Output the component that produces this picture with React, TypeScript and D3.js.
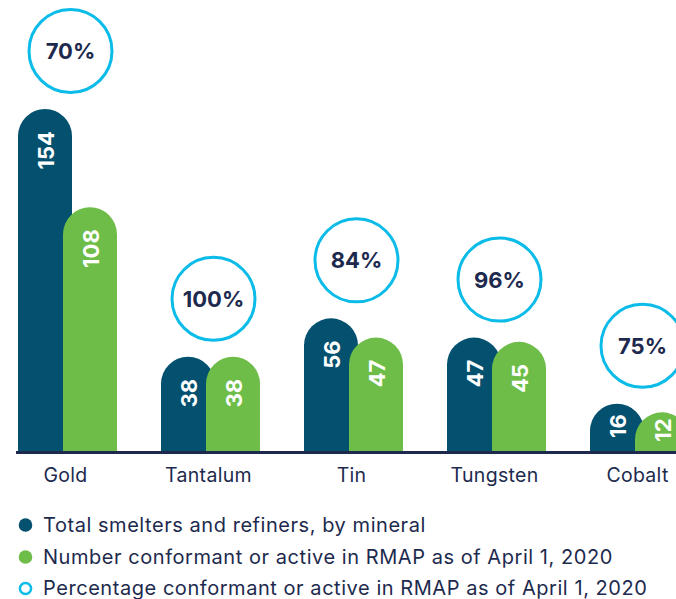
import React from "react";
import * as d3 from "d3";

const categories = ["Gold", "Tantalum", "Tin", "Tungsten", "Cobalt"];
const totalSmelters = [154, 38, 56, 47, 16];
const conformant = [108, 38, 47, 45, 12];
const percentages = ["70%", "100%", "84%", "96%", "75%"];
const legendLabels = [
  "Total smelters and refiners, by mineral",
  "Number conformant or active in RMAP as of April 1, 2020",
  "Percentage conformant or active in RMAP as of April 1, 2020",
];

const W = 676;
const H = 599;
const DARK = "#03506f";
const GREEN = "#6dbd48";
const CYAN = "#0bbbe8";
const NAVY = "#1d2a4e";
const FONT = "Inter, 'Liberation Sans', Arial, sans-serif";

export default function App() {
  const baseline = 451;
  const x = d3.scalePoint<string>().domain(categories).range([67.5, 639.5]);
  const y = d3.scaleLinear().domain([0, 154]).range([438, 109]);
  const barW = 54;
  const r = barW / 2;
  const fs = 22;

  const barPath = (x0: number, top: number) =>
    `M${x0},${baseline} L${x0},${top + r} A${r},${r} 0 0 1 ${x0 + barW},${top + r} L${x0 + barW},${baseline} Z`;

  const labelEnd = (top: number, v: number) => {
    const len = String(v).length * fs * 0.6;
    return Math.min(top + 22, (top + baseline) / 2 - len / 2);
  };

  const legendY = [525, 557, 588.5];

  return (
    <svg
      width={W}
      height={H}
      style={{ position: "absolute", left: 0, top: 0, background: "#fff" }}
      fontFamily={FONT}
    >
      {categories.map((c, i) => {
        const cx = x(c) as number;
        const dx = cx - 49.5;
        const gx = cx - 4.5;
        const dTop = y(totalSmelters[i]);
        const gTop = y(conformant[i]);
        return (
          <g key={c}>
            <path d={barPath(dx, dTop)} fill={DARK} />
            <path d={barPath(gx, gTop)} fill={GREEN} />
            <text
              transform={`translate(${dx + barW / 2 + 1},${labelEnd(dTop, totalSmelters[i])}) rotate(-90)`}
              textAnchor="end"
              dominantBaseline="central"
              fill="#fff"
              fontWeight="bold"
              fontSize={fs}
            >
              {totalSmelters[i]}
            </text>
            <text
              transform={`translate(${gx + barW / 2 + 1},${labelEnd(gTop, conformant[i])}) rotate(-90)`}
              textAnchor="end"
              dominantBaseline="central"
              fill="#fff"
              fontWeight="bold"
              fontSize={fs}
            >
              {conformant[i]}
            </text>
            <circle
              cx={cx + 3}
              cy={dTop - 58}
              r={41.5}
              fill="#fff"
              stroke={CYAN}
              strokeWidth={3}
            />
            <text
              x={cx + 3}
              y={dTop - 58}
              textAnchor="middle"
              dominantBaseline="central"
              fill={NAVY}
              fontWeight="bold"
              fontSize={22}
            >
              {percentages[i]}
            </text>
            <text
              x={cx - 2}
              y={482}
              textAnchor="middle"
              fill={NAVY}
              fontSize={19.5}
              letterSpacing={0.3}
            >
              {c}
            </text>
          </g>
        );
      })}
      <line x1={16} x2={W} y1={452.5} y2={452.5} stroke={NAVY} strokeWidth={3} />
      {legendLabels.map((l, i) => (
        <g key={l}>
          {i < 2 ? (
            <circle cx={25.5} cy={legendY[i]} r={6.8} fill={i === 0 ? DARK : GREEN} />
          ) : (
            <circle cx={25.5} cy={legendY[i]} r={5.6} fill="#fff" stroke={CYAN} strokeWidth={2.5} />
          )}
          <text x={43} y={legendY[i] + 6.5} fill={NAVY} fontSize={20} letterSpacing={0.55}>
            {l}
          </text>
        </g>
      ))}
    </svg>
  );
}
